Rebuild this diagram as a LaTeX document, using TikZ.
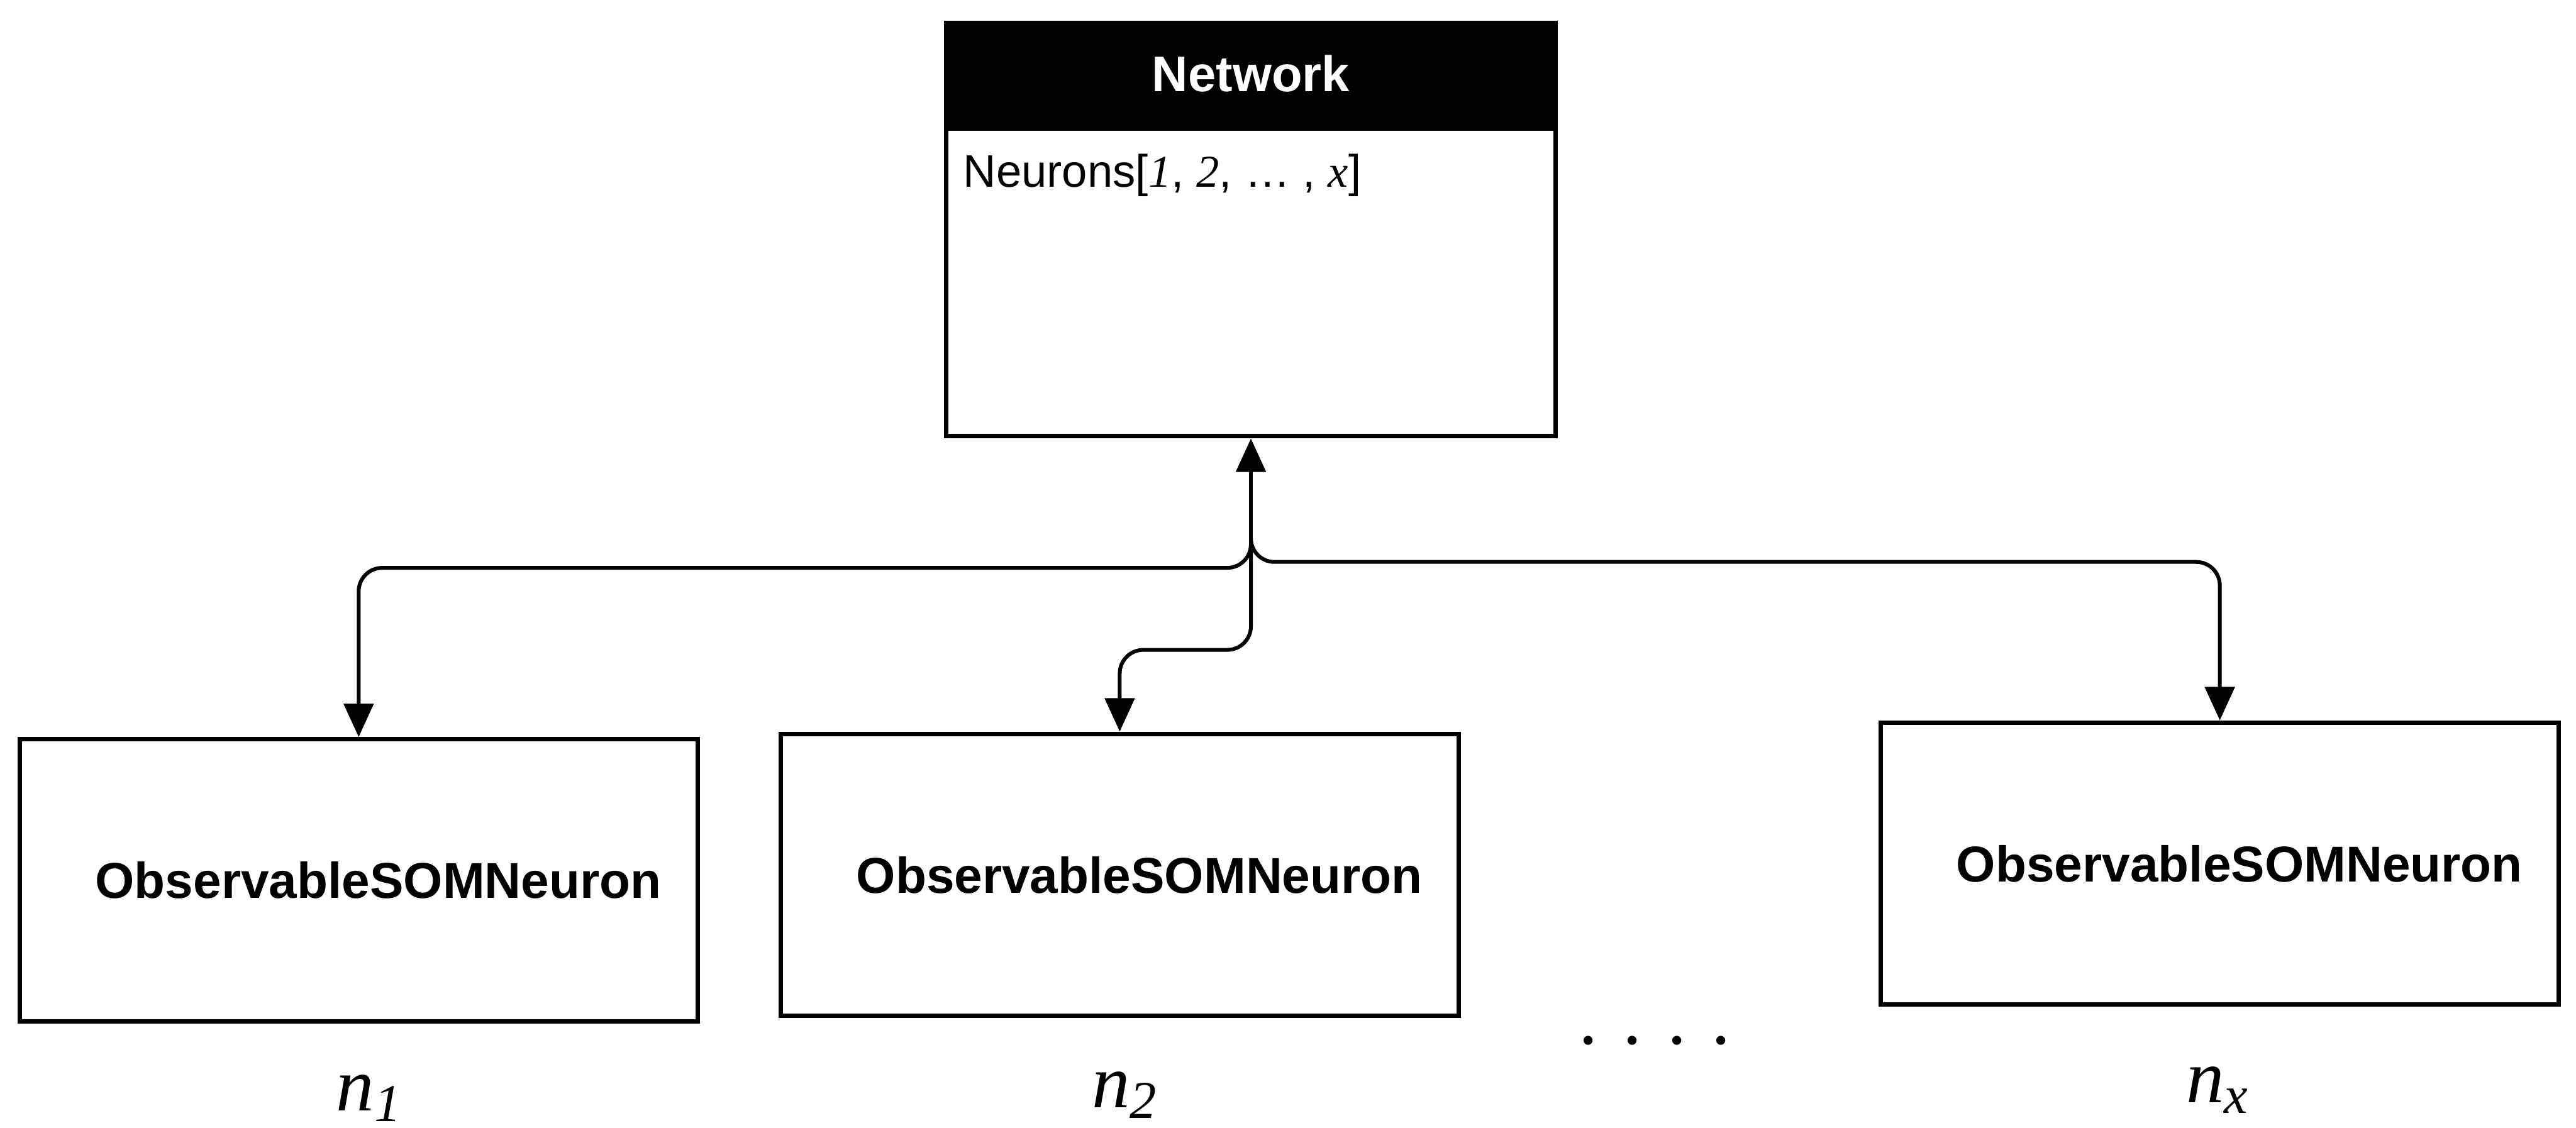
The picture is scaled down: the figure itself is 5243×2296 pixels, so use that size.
\documentclass[tikz,border=0pt]{standalone}
\usepackage{fontspec}
\setmainfont{Liberation Sans}
\newfontfamily\labelfont{Liberation Serif}
\usetikzlibrary{arrows.meta,positioning}

\newcommand{\serifit}[1]{{\labelfont\itshape #1}}

\begin{document}
\begin{tikzpicture}
        [x=0.05mm,y=-0.05mm,
        headbox/.style={rectangle,draw=black,fill=black,text=white,line width=1.3pt,
            minimum width=62mm,minimum height=10.3mm,inner sep=0pt,
            font=\fontsize{14.5}{16}\selectfont\bfseries},
        bodybox/.style={rectangle,draw=black,line width=1.3pt,
            minimum width=62mm,minimum height=31.3mm,inner sep=0pt},
        cellbox/.style={rectangle,draw=black,line width=1.3pt,
            minimum width=69mm,minimum height=28.7mm,
            execute at begin node=\hspace*{4mm},
            font=\fontsize{14.6}{16}\selectfont\bfseries},
        attr/.style={inner sep=0pt,font=\fontsize{13.2}{16}\selectfont},
        nlabel/.style={font=\labelfont\itshape\fontsize{22}{26}\selectfont},
        link/.style={line width=1.1pt,rounded corners=2.4mm,
            -{Triangle[length=3.4mm,width=3mm]}}]
    \useasboundingbox (0,0) rectangle (5243,2296);

    % the network class
    \node[headbox] (nethead) at (2546,150) {Network};
    \node[bodybox,below=0pt of nethead] (net) {};
    \node[attr,anchor=north west,below right=2.7mm and 1.9mm of net.north west] (neurons)
        {Neurons[\serifit{1}, \serifit{2}, \dots\ , \serifit{x}]};

    % the neurons
    \node[cellbox] (neuron1) at (730,1792) {ObservableSOMNeuron};
    \node[cellbox] (neuron2) at (2279,1781) {ObservableSOMNeuron};
    \node[cellbox] (neuronx) at (4518,1758) {ObservableSOMNeuron};

    \node[nlabel] (lab1) at (752,2236) {n\textsubscript{1}};
    \node[nlabel] (lab2) at (2290,2229) {n\textsubscript{2}};
    \node[nlabel] (labx) at (4514,2219) {n\textsubscript{x}};
    \node[font=\labelfont\fontsize{22}{26}\selectfont] (dots) at (3368,2118) {. . . .};

    % connectors
    \coordinate (hub) at (2546,1100);
    \draw[link] (hub) -- (net.south);
    \draw[link] (hub) -- ++(0,56) -| (neuron1.north);
    \draw[link] (hub) -- ++(0,223) -| (neuron2.north);
    \draw[link] (hub) -- ++(0,44) -| (neuronx.north);
\end{tikzpicture}
\end{document}
